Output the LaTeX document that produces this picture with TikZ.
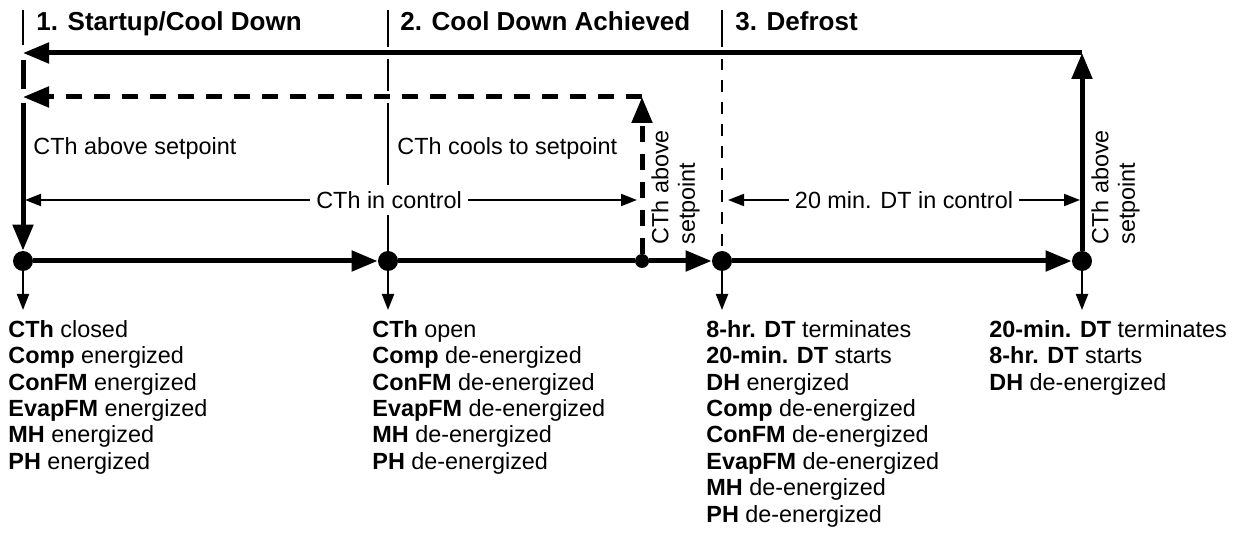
\documentclass[tikz,border=0pt]{standalone}
\usepackage{fontspec}
\setmainfont{Liberation Sans}
\usetikzlibrary{arrows.meta}

\begin{document}
\begin{tikzpicture}[x=0.5pt,y=-0.5pt,
    font=\fontsize{11.7}{13.2}\selectfont,
    dot/.style={circle,fill,inner sep=0pt,minimum size=10pt},
    smalldot/.style={circle,fill,inner sep=0pt,minimum size=7pt},
    heavy/.style={line width=2.5pt,-{Triangle[length=13pt,width=10pt]}},
    light/.style={line width=1pt,-{Triangle[length=8pt,width=6pt]}},
    both/.style={line width=1pt,{Triangle[length=8pt,width=6pt]}-{Triangle[length=8pt,width=6pt]}},
    thickdash/.style={dash pattern=on 8pt off 6pt},
    sep/.style={line width=1pt},
    halo/.style={preaction={draw=white,line width=6pt,solid,-}},
    phase/.style={anchor=base west,inner sep=0pt,font=\fontsize{13}{15}\selectfont\bfseries},
    cond/.style={anchor=base west,inner sep=0pt},
    turned/.style={anchor=north west,inner sep=0pt,align=left,rotate=90},
    state/.style={anchor=north west,inner sep=0pt,align=left}]

\useasboundingbox (0,0) rectangle (1240,539);

% timeline points
\node[dot] (p1) at (23,261) {};
\node[dot] (p2) at (388,261) {};
\node[smalldot] (pm) at (642,261) {};
\node[dot] (p3) at (722,261) {};
\node[dot] (p4) at (1082,261) {};

\coordinate (h1) at (23,10);   \coordinate (h1b) at (23,45);
\coordinate (h2) at (388,10);
\coordinate (h3) at (722,10);  \coordinate (h3b) at (722,47);
\coordinate (h3c) at (722,58);
\coordinate (top1) at (23,53);   \coordinate (top4) at (1082,53);
\coordinate (back1) at (23,97);  \coordinate (backm) at (642,97);
\coordinate (gap1) at (23,60);   \coordinate (gap2) at (23,89);
\coordinate (drop1) at (23,103);
\coordinate (ctl1) at (25,200);  \coordinate (ctl2) at (637,200);
\coordinate (ctl3) at (728,200); \coordinate (ctl4) at (1080,200);
\coordinate (o1) at (23,310);  \coordinate (o2) at (388,310);
\coordinate (o3) at (722,310); \coordinate (o4) at (1082,310);

% phase separators
\draw[sep] (h1) -- (h1b);
\draw[sep] (h2) -- (p2);
\draw[sep] (h3) -- (h3b);
\draw[sep,dash pattern=on 6pt off 5pt] (h3c) -- (p3);

\node[phase] (t1) at (36,31) {1. Startup/Cool Down};
\node[phase] (t2) at (400,31) {2. Cool Down Achieved};
\node[phase] (t3) at (735,31) {3. Defrost};

% return paths
\draw[heavy,halo] (top4) -- (top1);
\draw[heavy] (p4) -- (top4);
\draw[heavy,thickdash,halo] (backm) -- (back1);
\draw[heavy,thickdash] (pm) -- (backm);
\draw[line width=2.5pt] (gap1) -- (gap2);
\draw[heavy] (drop1) -- (p1);

% main timeline
\draw[heavy] (p1) -- (p2);
\draw[line width=2.5pt] (p2) -- (pm);
\draw[heavy] (pm) -- (p3);
\draw[heavy] (p3) -- (p4);

\node[cond] (c1) at (33,155) {CTh above setpoint};
\node[cond] (c2) at (397,155) {CTh cools to setpoint};
\node[turned] (c3) at (651,245) {CTh above\\setpoint};
\node[turned] (c4) at (1091,245) {CTh above\\setpoint};

\draw[both] (ctl1) -- (ctl2) node[pos=0.595,fill=white,inner sep=3pt] {CTh in control};
\draw[both] (ctl3) -- (ctl4) node[midway,fill=white,inner sep=3pt] {20 min. DT in control};

% outputs at each point
\draw[light] (p1) -- (o1);
\draw[light] (p2) -- (o2);
\draw[light] (p3) -- (o3);
\draw[light] (p4) -- (o4);

\node[state] (s1) at (8,320) {\textbf{CTh} closed\\\textbf{Comp} energized\\\textbf{ConFM} energized\\\textbf{EvapFM} energized\\\textbf{MH} energized\\\textbf{PH} energized};
\node[state] (s2) at (372,320) {\textbf{CTh} open\\\textbf{Comp} de-energized\\\textbf{ConFM} de-energized\\\textbf{EvapFM} de-energized\\\textbf{MH} de-energized\\\textbf{PH} de-energized};
\node[state] (s3) at (706,320) {\textbf{8-hr. DT} terminates\\\textbf{20-min. DT} starts\\\textbf{DH} energized\\\textbf{Comp} de-energized\\\textbf{ConFM} de-energized\\\textbf{EvapFM} de-energized\\\textbf{MH} de-energized\\\textbf{PH} de-energized};
\node[state] (s4) at (989,320) {\textbf{20-min. DT} terminates\\\textbf{8-hr. DT} starts\\\textbf{DH} de-energized};

\end{tikzpicture}
\end{document}
